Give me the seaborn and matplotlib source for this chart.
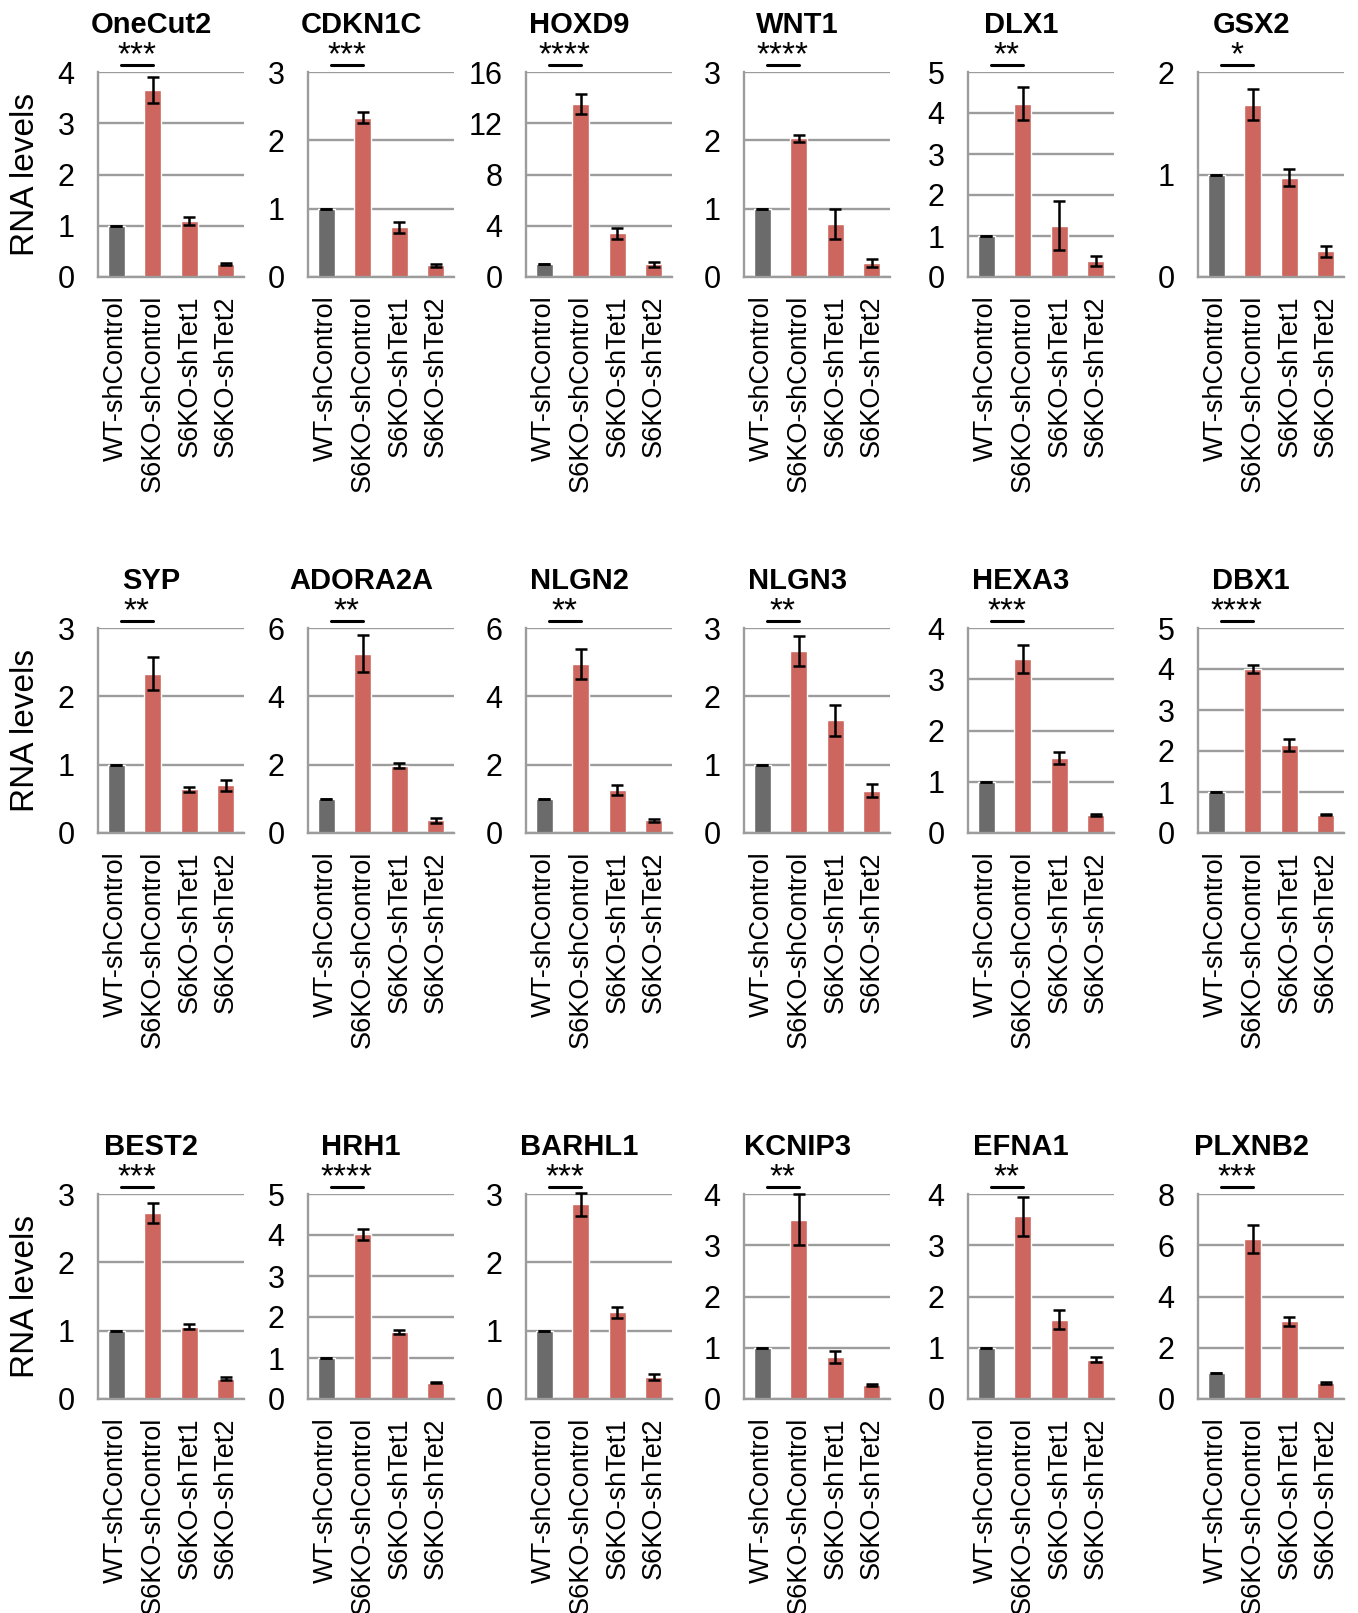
import matplotlib
matplotlib.use("Agg")
from matplotlib import pyplot as plt
import seaborn as sns

sns.set_style("white")
plt.rcParams['font.family'] = ['Liberation Sans', 'DejaVu Sans']
plt.rcParams['text.color'] = 'black'
plt.rcParams['xtick.labelcolor'] = 'black'
plt.rcParams['ytick.labelcolor'] = 'black'

# Data
genes = ['OneCut2', 'CDKN1C', 'HOXD9', 'WNT1', 'DLX1', 'GSX2',
         'SYP', 'ADORA2A', 'NLGN2', 'NLGN3', 'HEXA3', 'DBX1',
         'BEST2', 'HRH1', 'BARHL1', 'KCNIP3', 'EFNA1', 'PLXNB2']
conditions = ['WT-shControl', 'S6KO-shControl', 'S6KO-shTet1', 'S6KO-shTet2']

wt_ctrl  = [1.0] * 18
ko_ctrl  = [3.65, 2.33, 13.5, 2.03, 4.23, 1.68,
            2.33, 5.25, 4.95, 2.67, 3.40, 4.00,
            2.72, 4.02, 2.85, 3.50, 3.57, 6.25]
ko_tet1  = [1.10, 0.73, 3.40, 0.77, 1.25, 0.97,
            0.64, 1.97, 1.25, 1.65, 1.47, 2.15,
            1.06, 1.63, 1.27, 0.82, 1.55, 3.03]
ko_tet2  = [0.25, 0.17, 1.00, 0.20, 0.40, 0.25,
            0.70, 0.37, 0.37, 0.62, 0.35, 0.45,
            0.30, 0.40, 0.32, 0.28, 0.77, 0.63]

err_wt   = [0.0] * 18
err_ctrl = [0.25, 0.08, 0.75, 0.05, 0.40, 0.15,
            0.24, 0.55, 0.45, 0.22, 0.27, 0.10,
            0.15, 0.13, 0.17, 0.50, 0.38, 0.55]
err_tet1 = [0.08, 0.08, 0.40, 0.22, 0.60, 0.08,
            0.04, 0.08, 0.15, 0.23, 0.12, 0.15,
            0.04, 0.05, 0.08, 0.12, 0.18, 0.18]
err_tet2 = [0.02, 0.02, 0.20, 0.06, 0.12, 0.05,
            0.08, 0.08, 0.05, 0.10, 0.02, 0.02,
            0.02, 0.02, 0.04, 0.02, 0.04, 0.05]

y_max  = [4, 3, 16, 3, 5, 2,
          3, 6, 6, 3, 4, 5,
          3, 5, 3, 4, 4, 8]
y_step = [1, 1, 4, 1, 1, 1,
          1, 2, 2, 1, 1, 1,
          1, 1, 1, 1, 1, 2]
stars  = ['***', '***', '****', '****', '**', '*',
          '**', '**', '**', '**', '***', '****',
          '***', '****', '***', '**', '**', '***']

bar_colors = ['#6b6b6b', '#cd665e', '#cd665e', '#cd665e']
grid_gray = '#9c9c9c'

W, H = 1358, 1613
col_left = [98, 308, 526, 744, 968, 1198]
row_top = [72, 628, 1194]
ax_w, ax_h = 146, 205

fig = plt.figure(figsize=(W / 100, H / 100), dpi=100)

for i, gene in enumerate(genes):
    r, c = divmod(i, 6)
    left, top = col_left[c], row_top[r]
    ax = fig.add_axes([left / W, 1 - (top + ax_h) / H, ax_w / W, ax_h / H])

    vals = [wt_ctrl[i], ko_ctrl[i], ko_tet1[i], ko_tet2[i]]
    errs = [err_wt[i], err_ctrl[i], err_tet1[i], err_tet2[i]]

    sns.barplot(x=conditions, y=vals, hue=conditions, palette=bar_colors,
                width=0.47, saturation=1, legend=False, ax=ax, zorder=2)
    ax.errorbar(range(4), vals, yerr=errs, fmt='none', ecolor='black',
                elinewidth=1.8, capsize=4.5, capthick=1.8, zorder=3, clip_on=False)

    ax.set_xlim(-0.5, 3.5)
    ax.set_ylim(0, y_max[i])
    ax.set_yticks(range(0, y_max[i] + 1, y_step[i]))
    ax.yaxis.grid(True, color=grid_gray, lw=1.7)
    ax.set_axisbelow(True)

    ax.set_xticks(range(4))
    ax.set_xticklabels(conditions, rotation=90, fontsize=19.5)
    ax.set_xticks([-0.5, 0.5, 1.5, 2.5, 3.5], minor=True)
    ax.tick_params(axis='x', which='major', length=0, pad=13)
    ax.tick_params(axis='x', which='minor', length=6, width=1.7, color=grid_gray)
    ax.tick_params(axis='y', length=6, width=1.7, color=grid_gray,
                   labelsize=22, pad=11)
    ax.set_xlabel('')
    ax.set_ylabel('')

    sns.despine(ax=ax)
    for side in ['left', 'bottom']:
        ax.spines[side].set_color(grid_gray)
        ax.spines[side].set_linewidth(1.7)

    tr = ax.get_xaxis_transform()
    ax.plot([0.12, 1.0], [1 + 7 / ax_h] * 2, color='black', lw=2.2,
            transform=tr, clip_on=False)
    ax.text(0.56, 1 + 16 / ax_h, stars[i], ha='center', va='center',
            fontsize=24, transform=tr)
    ax.text(0.5 - 20 / ax_w, 1 + 47 / ax_h, gene, ha='center', va='center',
            fontsize=21, fontweight='bold', transform=ax.transAxes)

for r in range(3):
    yc = row_top[r] + ax_h / 2
    fig.text(26 / W, 1 - yc / H, 'RNA levels', rotation=90, fontsize=24,
             ha='center', va='center')

fig.savefig('out.png', dpi=100, facecolor='white')
